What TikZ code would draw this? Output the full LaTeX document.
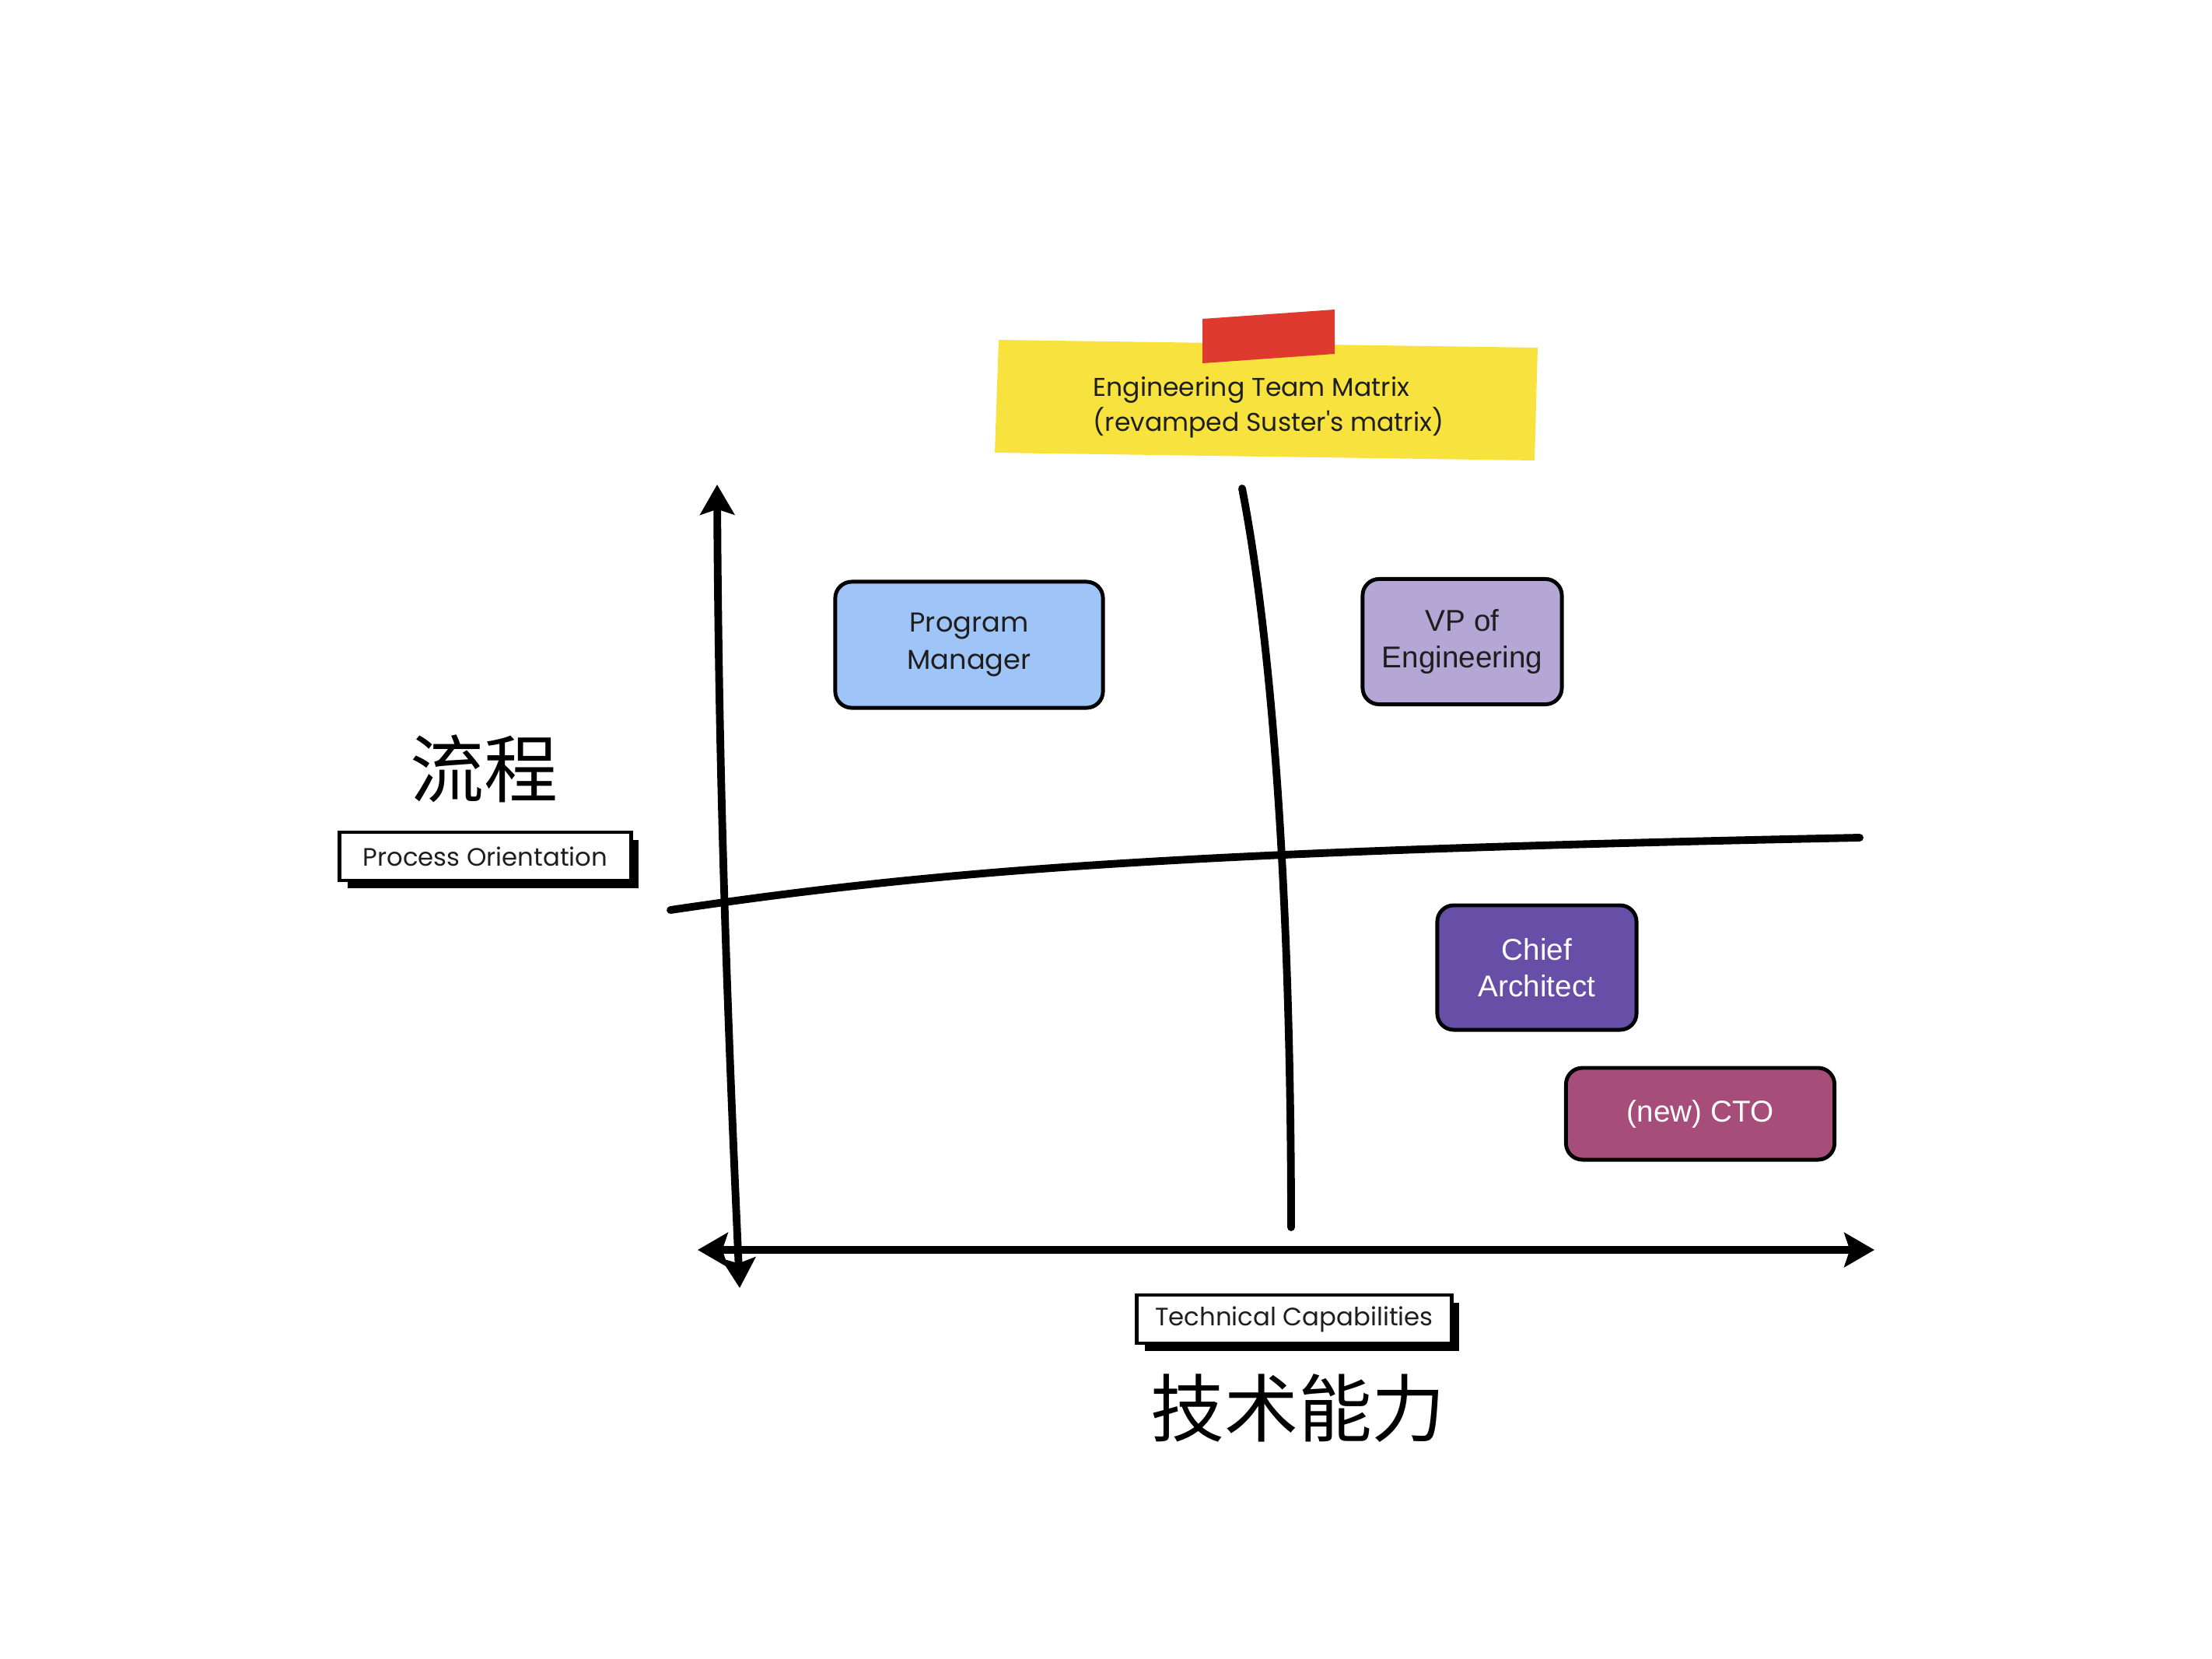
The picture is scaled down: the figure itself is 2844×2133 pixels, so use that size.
\documentclass[tikz,border=0pt]{standalone}
\usepackage{fontspec}
\setmainfont{Liberation Sans}
\newfontfamily\roundfont{Poppins}
\newfontfamily\cjk{Noto Sans CJK SC}
\usetikzlibrary{arrows.meta,shadows}
\definecolor{noteyellow}{HTML}{F8E23E}
\definecolor{tapered}{HTML}{DE3A2F}
\definecolor{pmblue}{HTML}{9FC5F8}
\definecolor{vplav}{HTML}{B4A7D6}
\definecolor{capurple}{HTML}{674EA7}
\definecolor{ctomag}{HTML}{A64D79}
\definecolor{inkdark}{HTML}{1E1E1E}
\begin{document}
\begin{tikzpicture}[x=0.01cm,y=-0.01cm,
  role/.style={draw=black, line width=1.4pt, rounded corners=6pt, align=center,
    inner sep=0pt, font=\fontsize{11}{13.5}\selectfont, text=inkdark},
  lbl/.style={draw=black, fill=white, line width=1.4pt, inner sep=0pt,
    minimum height=0.62cm, font=\roundfont\fontsize{9.2}{11}\selectfont, text=inkdark,
    drop shadow={shadow xshift=2.8pt, shadow yshift=-2.8pt, fill=black, opacity=1}},
  cjklbl/.style={font=\cjk\fontsize{27}{32}\selectfont, inner sep=0pt},
  axisline/.style={line width=2.8pt, line cap=round,
    arrows={Stealth[length=11pt,width=12.5pt,inset=2pt]-Stealth[length=11pt,width=12.5pt,inset=2pt]}},
  divider/.style={line width=2.8pt, line cap=round}
]
\useasboundingbox (0,0) rectangle (2844,2133);
\fill[white] (0,0) rectangle (2844,2133);

% sticky note
\fill[noteyellow] (1284,437) -- (1977,447) -- (1973,592) -- (1279,582) -- cycle;
\fill[tapered] (1546,410) -- (1716,398) -- (1716,455) -- (1546,467) -- cycle;
\node[anchor=west, align=left, inner sep=0pt, text=inkdark,
  font=\roundfont\fontsize{9.4}{12.8}\selectfont] (title) at (1405,524)
  {Engineering Team Matrix\\(revamped Suster's matrix)};

% axes
\coordinate (ytop) at (922,623);
\coordinate (ybot) at (951,1656);
\coordinate (xleft) at (897,1607);
\coordinate (xright) at (2410,1607);
\draw[axisline] (ytop) .. controls (924,1000) and (935,1300) .. (ybot);
\draw[axisline] (xleft) -- (xright);

% quadrant dividers
\coordinate (hl) at (862,1170);
\coordinate (hr) at (2391,1077);
\coordinate (vt) at (1597,628);
\coordinate (vb) at (1660,1578);
\draw[divider] (hl) .. controls (1200,1120) and (1500,1095) .. (hr);
\draw[divider] (vt) .. controls (1640,850) and (1660,1200) .. (vb);

% roles
\node[role, fill=pmblue, minimum width=3.44cm, minimum height=1.62cm,
  font=\roundfont\fontsize{10}{13.5}\selectfont] (pm) at (1246,829) {Program\\Manager};
\node[role, fill=vplav, minimum width=2.56cm, minimum height=1.61cm] (vp) at (1880,825) {VP of\\Engineering};
\node[role, fill=capurple, text=white, minimum width=2.56cm, minimum height=1.60cm] (ca) at (1976,1244) {Chief\\Architect};
\node[role, fill=ctomag, text=white, minimum width=3.45cm, minimum height=1.18cm] (cto) at (2186,1432) {(new) CTO};

% axis labels
\node[lbl, minimum width=3.74cm] (po) at (624,1101) {Process Orientation};
\node[cjklbl] (lc) at (622,988) {流程};
\node[lbl, minimum width=4.04cm] (tc) at (1664,1696) {Technical Capabilities};
\node[cjklbl] (js) at (1669,1810) {技术能力};
\end{tikzpicture}
\end{document}
